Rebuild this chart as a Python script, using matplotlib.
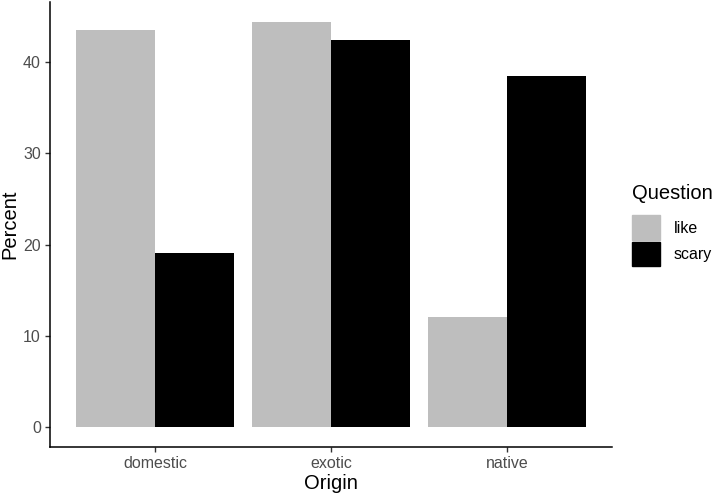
import matplotlib
matplotlib.use('Agg')
import matplotlib.pyplot as plt
import matplotlib.patches as mpatches
import numpy as np

plt.rcParams['font.family'] = ['Liberation Sans', 'DejaVu Sans']

# Data
origins = ['domestic', 'exotic', 'native']
questions = ['like', 'scary']
like_pct = [43.5, 44.4, 12.1]
scary_pct = [19.1, 42.4, 38.5]
colors = {'like': '#BEBEBE', 'scary': '#000000'}

fig = plt.figure(figsize=(7.17, 4.95), dpi=100)
ax = fig.add_axes([0.0697, 0.097, 0.7843, 0.899])

x = np.arange(len(origins))
width = 0.45
ax.bar(x - width/2, like_pct, width, color=colors['like'], linewidth=0)
ax.bar(x + width/2, scary_pct, width, color=colors['scary'], linewidth=0)

ymax = max(max(like_pct), max(scary_pct))
ax.set_xlim(-0.6, len(origins) - 1 + 0.6)
ax.set_ylim(-0.05 * ymax, ymax * 1.05)
ax.set_xticks(x)
ax.set_xticklabels(origins)
ax.set_yticks([0, 10, 20, 30, 40])

ax.spines['top'].set_visible(False)
ax.spines['right'].set_visible(False)
for s in ['left', 'bottom']:
    ax.spines[s].set_linewidth(1.1)
ax.tick_params(axis='both', length=3.5, width=1.0, color='#333333',
               labelsize=11.5, labelcolor='#4D4D4D', pad=3)

ax.set_xlabel('Origin', fontsize=14.5, labelpad=2)
ax.set_ylabel('Percent', fontsize=14.5, labelpad=3)

handles = [mpatches.Patch(color=colors[q], label=q) for q in questions]
leg = fig.legend(handles=handles, title='Question', loc='center left',
                 bbox_to_anchor=(0.872, 0.545), frameon=False,
                 fontsize=11.5, title_fontsize=14.5,
                 handlelength=1.75, handleheight=2.0, handletextpad=0.9,
                 labelspacing=0.1, borderaxespad=0)
leg._legend_box.align = 'left'
leg._legend_box.sep = 9

fig.savefig('out.png', dpi=100)
